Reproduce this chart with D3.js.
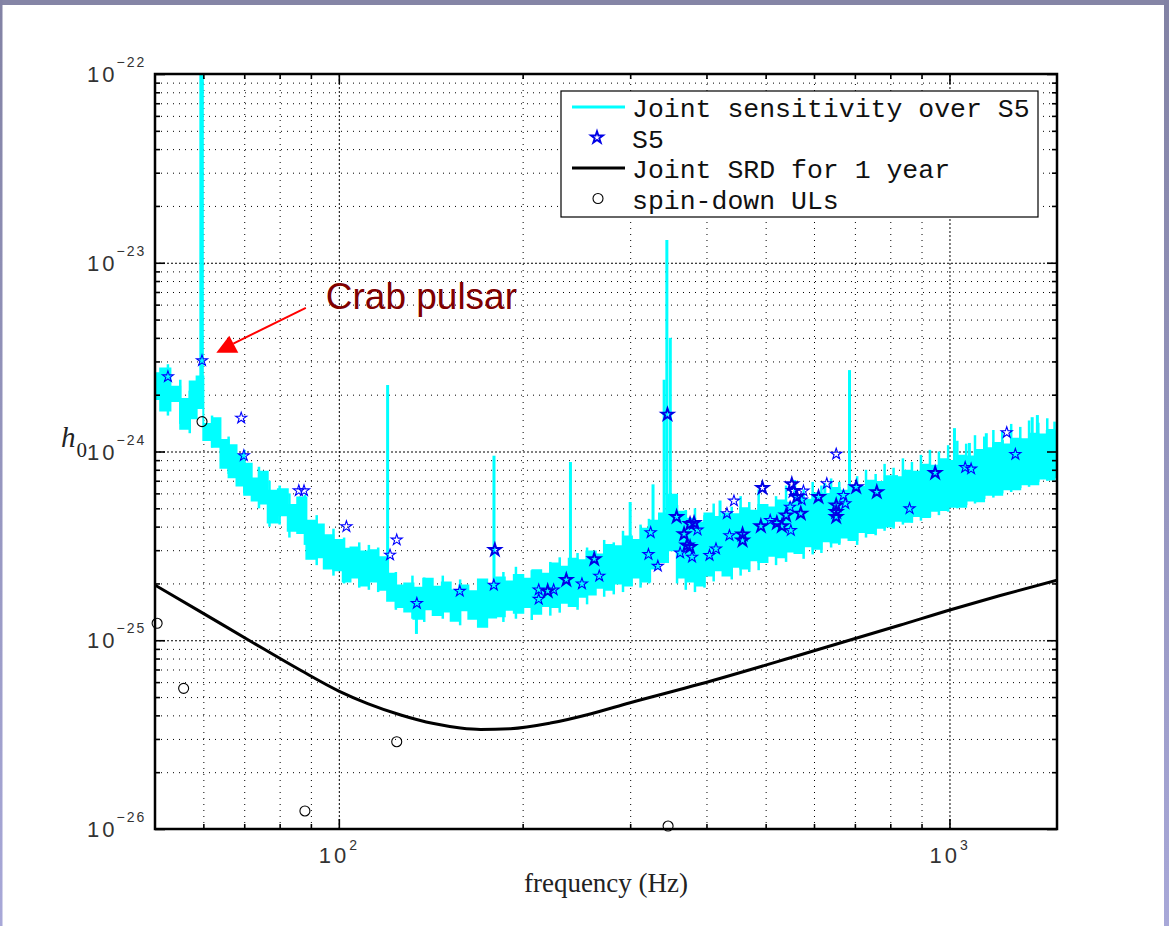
<!DOCTYPE html>
<html>
<head>
<meta charset="utf-8">
<script src="https://cdnjs.cloudflare.com/ajax/libs/d3/7.8.5/d3.min.js"></script>
<style>
  body { margin: 0; background: #fff; }
  svg { display: block; }
</style>
</head>
<body>
<svg width="1169" height="926"></svg>
<script>
var svg = d3.select('svg');

// all h0 values below are in units of 1e-25
var unit = 1e-25;

// joint sensitivity over S5: frequency grid with upper and lower edge of the noisy band
var sensFreq = [50, 52, 54, 56, 58, 59, 61, 63, 65, 67,
    69, 71, 73, 75, 78, 81, 84, 87, 90, 93,
    96, 100, 103, 106, 110, 114, 118, 122, 126, 130,
    135, 140, 145, 150, 155, 160, 166, 172, 178, 184,
    190, 197, 204, 211, 218, 226, 234, 242, 250, 259,
    268, 277, 287, 297, 307, 318, 329, 340, 352, 364,
    377, 390, 404, 418, 432, 447, 462, 478, 495, 512,
    530, 548, 567, 587, 607, 628, 650, 672, 695, 719,
    744, 770, 797, 825, 853, 883, 913, 945, 978, 1012,
    1047, 1083, 1120, 1159, 1199, 1241, 1284, 1328, 1374, 1422,
    1471, 1500];
var sensHigh = [26, 27.5, 22, 19, 23.5, 25, 14, 15, 11.5, 10.8,
    9.6, 8.6, 7.2, 7.8, 6.2, 6.3, 5.2, 5.7, 4.3, 4.1,
    3.6, 3.4, 3.05, 3.1, 2.95, 3.0, 2.75, 2.25, 1.95, 2.0,
    1.9, 2.12, 1.92, 2.02, 1.84, 1.95, 1.82, 2.1, 1.98, 2.15,
    2.05, 2.22, 2.12, 2.35, 2.25, 2.55, 2.45, 2.7, 2.65, 2.95,
    2.85, 3.2, 3.15, 3.55, 3.4, 3.9, 4.3, 4.7, 5.9, 4.8,
    4.4, 4.2, 4.7, 4.5, 4.7, 4.65, 5.0, 4.85, 5.2, 5.05,
    5.5, 5.35, 5.7, 5.55, 6.0, 5.95, 6.4, 6.2, 6.6, 6.5,
    7.0, 6.9, 7.4, 7.3, 7.9, 7.8, 8.5, 8.4, 9.1, 8.9,
    9.5, 9.4, 10.2, 10.4, 11.1, 10.9, 11.7, 11.6, 12.4, 12.3,
    13.0, 12.8];
var sensLow = [19, 16.5, 18.5, 13.2, 15, 17, 11.5, 10.6, 8.2, 7.3,
    6.6, 5.9, 5.5, 5.3, 4.2, 4.6, 3.8, 3.7, 2.7, 2.75,
    2.4, 2.35, 2.05, 2.15, 1.95, 2.05, 1.85, 1.62, 1.5, 1.42,
    1.3, 1.46, 1.36, 1.42, 1.27, 1.44, 1.3, 1.18, 1.32, 1.34,
    1.45, 1.4, 1.5, 1.38, 1.52, 1.5, 1.58, 1.52, 1.7, 1.75,
    1.9, 1.85, 2.0, 1.95, 2.15, 2.05, 2.4, 2.6, 3.0, 2.15,
    2.05, 1.95, 2.2, 2.35, 2.2, 2.45, 2.4, 2.65, 2.6, 2.8,
    2.75, 2.95, 2.9, 3.15, 3.05, 3.35, 3.3, 3.5, 3.4, 3.75,
    3.7, 3.95, 4.0, 4.3, 4.25, 4.55, 4.5, 4.85, 4.9, 5.1,
    5.1, 5.5, 5.45, 5.9, 5.9, 6.3, 6.3, 6.7, 6.7, 7.2,
    7.1, 7.3];

// short excursions of the noisy curve beyond the band edges
var fringeFreq = [52.5, 55, 57, 62, 66, 70, 74, 77, 80, 83,
    88, 92, 98, 102, 108, 112, 116, 124, 132, 138,
    148, 158, 170, 186, 195, 207, 222, 230, 246, 255,
    272, 282, 292, 312, 322, 358, 370, 383, 397, 411,
    440, 455, 470, 487, 520, 540, 577, 597, 617, 640,
    660, 706, 730, 757, 783, 810, 839, 868, 898, 929,
    961, 995, 1030, 1065, 1101, 1140, 1180, 1220, 1262, 1306,
    1350, 1398, 1446, 1486];
var fringeLow = [15.5, 14, 12.5, 10.5, 7.6, 6.0, 5.0, 4.0, 4.1, 3.5,
    3.2, 2.5, 2.2, 2.0, 1.9, 1.85, 1.8, 1.45, 1.3, 1.25,
    1.3, 1.2, 1.2, 1.25, 1.3, 1.28, 1.35, 1.4, 1.45, 1.55,
    1.7, 1.75, 1.8, 1.9, 2.0, 2.0, 1.85, 1.8, 1.9, 2.05,
    2.1, 2.2, 2.3, 2.35, 2.5, 2.6, 2.7, 2.85, 2.9, 3.1,
    3.2, 3.2, 3.5, 3.6, 3.8, 3.9, 4.1, 4.2, 4.3, 4.5,
    4.6, 4.8, 5.0, 5.2, 5.3, 5.6, 5.7, 6.0, 6.1, 6.4,
    6.5, 6.9, 7.0, 7.4];
var fringeHigh = [29, 24, 21, 15.5, 12, 10.2, 8.3, 7.0, 6.6, 6.0,
    5.9, 4.6, 3.9, 3.5, 3.3, 3.2, 3.1, 2.3, 2.2, 2.15,
    2.2, 2.1, 2.0, 2.3, 2.45, 2.35, 2.6, 2.75, 2.9, 3.1,
    3.4, 3.3, 3.8, 4.1, 4.4, 5.2, 4.9, 5.0, 4.6, 5.3,
    5.1, 5.8, 5.4, 6.3, 5.8, 6.6, 6.3, 6.9, 6.6, 7.2,
    6.9, 7.4, 8.0, 7.6, 8.6, 8.2, 9.2, 8.8, 9.6, 10.2,
    10.0, 10.8, 11.4, 11.0, 12.2, 12.0, 13.0, 12.8, 14.0, 13.5,
    14.6, 14.2, 15.0, 14.4];

// narrow lines in the sensitivity curve
var lineFreq = [59.6, 120.2, 134, 179.5, 239.5, 300, 327, 341, 344.5, 349, 421,
    558, 625, 686, 819, 1019, 1078, 1149, 1221, 1366, 1393, 1446];
var lineLow = [20, 2.2, 1.08, 1.6, 1.8, 2.4, 2.6, 3.0, 3.0, 3.0, 3.0,
    3.8, 4.2, 4.5, 5.0, 6.5, 6.5, 7, 7.5, 8, 8, 8.5];
var lineTop = [3000, 22.5, 1.9, 9.5, 8.8, 5.4, 6.7, 24, 132, 40, 5.5,
    7.06, 6.8, 27, 7.5, 13.3, 11.1, 12.5, 11.5, 15.2, 15.6, 13];

// S5 upper limits
var s5Freq = [52.5, 59.7, 69.2, 69.9, 86.0, 87.7, 102.9, 121.3, 124.4, 134.2,
    157.8, 179.4, 212.5, 212.5, 224.8, 250.1, 267.0, 321.4, 324.1, 333.0,
    362.2, 378.8, 386.7, 404.6, 414.6, 432.1, 443.7, 436.2, 508.6, 549.8,
    576.6, 573.0, 548.3, 629.6, 652.4, 670.5, 675.1, 860.3, 1061, 1085,
    1241, 1282];
var s5H = [24.9, 30.3, 15.05, 9.5, 6.2, 6.2, 4.0, 2.83, 3.40, 1.57,
    1.82, 1.96, 1.85, 1.65, 1.85, 1.99, 2.19, 2.85, 3.72, 2.47,
    2.90, 2.76, 3.84, 2.82, 3.05, 4.69, 5.47, 3.59, 4.32, 3.82,
    6.18, 5.54, 5.08, 6.76, 9.70, 5.86, 5.30, 4.98, 8.23, 8.09,
    12.6, 9.67];
// S5 points that sit on top of each other (drawn heavier in the original)
var s5DupFreq = [180.1, 219.8, 235.8, 262.0, 345.3, 357.4, 367.6, 376.0, 381.7, 371.7,
    376.0, 458.3, 458.3, 494.0, 491.1, 521.6, 531.5, 540.2, 551.9, 555.4,
    562.3, 570.8, 610.3, 652.4, 652.4, 652.4, 703.5, 760.3, 947.5];
var s5DupH = [3.01, 1.82, 2.09, 2.69, 15.7, 4.50, 3.65, 4.13, 4.18, 3.18,
    3.12, 3.64, 3.38, 6.41, 4.02, 4.18, 4.02, 4.59, 6.71, 6.18,
    5.74, 4.69, 5.74, 5.19, 4.78, 4.50, 6.48, 6.10, 7.70];

// joint SRD for 1 year
var srdFreq = [50, 59.5, 71.8, 86.7, 100, 111.5, 126.3, 143, 158.2, 170.6,
    191, 222, 258.1, 298.9, 390.5, 568.8, 828.7, 1011, 1207, 1500];
var srdH = [1.96, 1.41, 0.985, 0.691, 0.538, 0.462, 0.402, 0.362, 0.343, 0.337,
    0.340, 0.364, 0.407, 0.465, 0.586, 0.835, 1.20, 1.46, 1.72, 2.08];

// spin-down upper limits
var sdFreq = [50.4, 55.7, 59.7, 88.0, 124.4, 346.1];
var sdH = [1.23, 0.556, 14.4, 0.1246, 0.290, 0.1037];

var legendLabels = ['Joint sensitivity over S5', 'S5', 'Joint SRD for 1 year', 'spin-down ULs'];
var xMajor = [100, 1000];
var xMinor = [60, 70, 80, 90, 200, 300, 400, 500, 600, 700, 800, 900];
var yExp = [-26, -25, -24, -23, -22];

// plot box (note: "top" is reserved on window, so use other names)
var pL = 155, pR = 1057, pT = 74, pB = 829;

var x = d3.scaleLog().domain([50, 1500]).range([pL, pR]);
var y = d3.scaleLog().domain([1e-26, 1e-22]).range([pB, pT]);

var yMajor = yExp.map(function(e) { return Math.pow(10, e); });
var yMinor = [];
yExp.slice(0, 4).forEach(function(e) {
    for (var k = 2; k <= 9; k++) yMinor.push(k * Math.pow(10, e));
});

// slide frame
var defs = svg.append('defs');
var grad = defs.append('linearGradient').attr('id', 'side')
    .attr('x1', 0).attr('y1', 0).attr('x2', 0).attr('y2', 1);
grad.append('stop').attr('offset', '0%').attr('stop-color', '#8282a4');
grad.append('stop').attr('offset', '100%').attr('stop-color', '#a8a8d8');

svg.append('rect').attr('x', 0).attr('y', 0).attr('width', 1169).attr('height', 5)
    .style('fill', '#8585a6');
svg.append('rect').attr('x', 0).attr('y', 0).attr('width', 2.5).attr('height', 926)
    .style('fill', 'url(#side)');
svg.append('rect').attr('x', 1164).attr('y', 0).attr('width', 5).attr('height', 926)
    .style('fill', 'url(#side)');

defs.append('clipPath').attr('id', 'plotclip')
    .append('rect')
    .attr('x', pL).attr('y', pT)
    .attr('width', pR - pL).attr('height', pB - pT);

// grid
function styleGrid(g, dash) {
    g.select('.domain').remove();
    g.selectAll('line')
        .style('stroke', '#000')
        .style('stroke-width', 1)
        .style('stroke-dasharray', dash);
}

svg.append('g')
    .attr('transform', 'translate(0,' + pB + ')')
    .call(d3.axisBottom(x).tickValues(xMinor).tickSize(-(pB - pT)).tickFormat(''))
    .call(styleGrid, '1,5');
svg.append('g')
    .attr('transform', 'translate(0,' + pB + ')')
    .call(d3.axisBottom(x).tickValues(xMajor).tickSize(-(pB - pT)).tickFormat(''))
    .call(styleGrid, '2,2');
svg.append('g')
    .attr('transform', 'translate(' + pL + ',0)')
    .call(d3.axisLeft(y).tickValues(yMinor).tickSize(-(pR - pL)).tickFormat(''))
    .call(styleGrid, '1,5');
svg.append('g')
    .attr('transform', 'translate(' + pL + ',0)')
    .call(d3.axisLeft(y).tickValues(yMajor.slice(1, 4)).tickSize(-(pR - pL)).tickFormat(''))
    .call(styleGrid, '2,2');

var plot = svg.append('g').attr('clip-path', 'url(#plotclip)');

// sensitivity band
var sens = sensFreq.map(function(f, i) {
    return {f: f, hi: sensHigh[i], lo: sensLow[i]};
});
var band = d3.area()
    .x(function(d) { return x(d.f); })
    .y0(function(d) { return y(d.lo * unit); })
    .y1(function(d) { return y(d.hi * unit); })
    .curve(d3.curveStep);

plot.append('path')
    .datum(sens)
    .attr('d', band)
    .style('fill', '#00ffff')
    .style('stroke', '#00ffff')
    .style('stroke-width', 2);

plot.selectAll('.fringe')
    .data(fringeFreq)
    .enter().append('line')
    .attr('class', 'fringe')
    .attr('x1', function(d) { return x(d); })
    .attr('x2', function(d) { return x(d); })
    .attr('y1', function(d, i) { return y(fringeLow[i] * unit); })
    .attr('y2', function(d, i) { return y(fringeHigh[i] * unit); })
    .style('stroke', '#00ffff')
    .style('stroke-width', 2.5);

plot.selectAll('.specline')
    .data(lineFreq)
    .enter().append('line')
    .attr('class', 'specline')
    .attr('x1', function(d) { return x(d); })
    .attr('x2', function(d) { return x(d); })
    .attr('y1', function(d, i) { return y(lineLow[i] * unit); })
    .attr('y2', function(d, i) { return y(lineTop[i] * unit); })
    .style('stroke', '#00ffff')
    .style('stroke-width', function(d, i) { return i === 0 ? 4.5 : 3; });

// SRD curve
var srdLine = d3.line()
    .x(function(d, i) { return x(srdFreq[i]); })
    .y(function(d, i) { return y(srdH[i] * unit); })
    .curve(d3.curveMonotoneX);

plot.append('path')
    .datum(srdFreq)
    .attr('d', srdLine)
    .style('fill', 'none')
    .style('stroke', '#000')
    .style('stroke-width', 3);

// S5 stars
var star = d3.symbol().type(d3.symbolStar).size(38);
var starBig = d3.symbol().type(d3.symbolStar).size(44);

svg.selectAll('.s5')
    .data(s5Freq)
    .enter().append('path')
    .attr('class', 's5')
    .attr('d', star)
    .attr('transform', function(d, i) {
        return 'translate(' + x(d) + ',' + y(s5H[i] * unit) + ')';
    })
    .style('fill', 'none')
    .style('stroke', '#0000ff')
    .style('stroke-width', 1.1);

svg.selectAll('.s5dup')
    .data(s5DupFreq)
    .enter().append('path')
    .attr('class', 's5dup')
    .attr('d', starBig)
    .attr('transform', function(d, i) {
        return 'translate(' + x(d) + ',' + y(s5DupH[i] * unit) + ')';
    })
    .style('fill', 'none')
    .style('stroke', '#0000e6')
    .style('stroke-width', 1.9);

// spin-down circles
svg.selectAll('.sd')
    .data(sdFreq)
    .enter().append('circle')
    .attr('class', 'sd')
    .attr('cx', function(d) { return x(d); })
    .attr('cy', function(d, i) { return y(sdH[i] * unit); })
    .attr('r', 5)
    .style('fill', 'none')
    .style('stroke', '#000')
    .style('stroke-width', 1.1);

// ticks (inward, on all four sides)
function styleTicks(g) {
    g.select('.domain').remove();
    g.selectAll('line').style('stroke', '#000').style('stroke-width', 1.6);
}
[[d3.axisLeft, pL], [d3.axisRight, pR]].forEach(function(a) {
    svg.append('g').attr('transform', 'translate(' + a[1] + ',0)')
        .call(a[0](y).tickValues(yMajor).tickSize(-10).tickFormat('')).call(styleTicks);
    svg.append('g').attr('transform', 'translate(' + a[1] + ',0)')
        .call(a[0](y).tickValues(yMinor).tickSize(-5).tickFormat('')).call(styleTicks);
});
[[d3.axisBottom, pB], [d3.axisTop, pT]].forEach(function(a) {
    svg.append('g').attr('transform', 'translate(0,' + a[1] + ')')
        .call(a[0](x).tickValues(xMajor).tickSize(-10).tickFormat('')).call(styleTicks);
    svg.append('g').attr('transform', 'translate(0,' + a[1] + ')')
        .call(a[0](x).tickValues(xMinor).tickSize(-5).tickFormat('')).call(styleTicks);
});

svg.append('rect')
    .attr('x', pL).attr('y', pT)
    .attr('width', pR - pL).attr('height', pB - pT)
    .style('fill', 'none')
    .style('stroke', '#000')
    .style('stroke-width', 2.5);

// tick labels
var yLab = svg.selectAll('.ylab')
    .data(yExp)
    .enter().append('text')
    .attr('class', 'ylab')
    .attr('x', 87)
    .attr('y', function(d) { return y(Math.pow(10, d)) + 8; })
    .style('font-family', 'Liberation Sans, Arial, sans-serif')
    .style('fill', '#333');
yLab.append('tspan').text('10').style('font-size', '22px').style('letter-spacing', '3px');
yLab.append('tspan').text(function(d) { return '\u2212' + (-d); })
    .attr('dy', -15).attr('dx', -1)
    .style('font-size', '14px').style('letter-spacing', '2px');

var xLab = svg.selectAll('.xlab')
    .data(xMajor)
    .enter().append('text')
    .attr('class', 'xlab')
    .attr('x', function(d) { return x(d) - 20; })
    .attr('y', 863)
    .style('font-family', 'Liberation Sans, Arial, sans-serif')
    .style('fill', '#333');
xLab.append('tspan').text('10').style('font-size', '22px').style('letter-spacing', '3px');
xLab.append('tspan').text(function(d) { return Math.round(Math.log10(d)); })
    .attr('dy', -13).attr('dx', 0)
    .style('font-size', '14px');

// axis titles
svg.append('text')
    .attr('x', (pL + pR) / 2)
    .attr('y', 892)
    .attr('text-anchor', 'middle')
    .style('font-family', 'Liberation Serif, Times New Roman, serif')
    .style('font-size', '27px')
    .style('fill', '#222')
    .text('frequency (Hz)');

var hLab = svg.append('text')
    .attr('x', 61)
    .attr('y', 447)
    .style('font-family', 'Liberation Serif, Times New Roman, serif')
    .style('fill', '#222');
hLab.append('tspan').text('h').style('font-size', '29px').style('font-style', 'italic');
hLab.append('tspan').text('0').attr('dy', 10).attr('dx', 1).style('font-size', '21px');

// legend
var lg = svg.append('g');
lg.append('rect')
    .attr('x', 561).attr('y', 91)
    .attr('width', 477).attr('height', 126)
    .style('fill', '#fff')
    .style('stroke', '#000')
    .style('stroke-width', 1.2);

var rowY = function(i) { return 107 + i * 30.5; };

lg.selectAll('.lgtext')
    .data(legendLabels)
    .enter().append('text')
    .attr('class', 'lgtext')
    .attr('x', 632)
    .attr('y', function(d, i) { return rowY(i) + 10; })
    .style('font-family', 'Liberation Mono, Courier New, monospace')
    .style('font-size', '26.5px')
    .style('fill', '#111')
    .text(function(d) { return d; });

lg.append('line')
    .attr('x1', 572).attr('x2', 625)
    .attr('y1', rowY(0)).attr('y2', rowY(0))
    .style('stroke', '#00ffff').style('stroke-width', 3);
lg.append('path')
    .attr('d', starBig)
    .attr('transform', 'translate(597,' + rowY(1) + ')')
    .style('fill', 'none').style('stroke', '#0000e6').style('stroke-width', 1.9);
lg.append('line')
    .attr('x1', 572).attr('x2', 625)
    .attr('y1', rowY(2)).attr('y2', rowY(2))
    .style('stroke', '#000').style('stroke-width', 3);
lg.append('circle')
    .attr('cx', 598).attr('cy', rowY(3)).attr('r', 5)
    .style('fill', 'none').style('stroke', '#000').style('stroke-width', 1.1);

// Crab pulsar annotation
var tipX = x(63.0), tipY = y(33.4e-25);
svg.append('line')
    .attr('x1', x(88.3)).attr('y1', y(57.6e-25))
    .attr('x2', tipX + 17).attr('y2', tipY - 9)
    .style('stroke', '#ff0000')
    .style('stroke-width', 2);
svg.append('path')
    .attr('d', 'M' + tipX + ',' + tipY + 'L' + (tipX + 13) + ',' + (tipY - 17) +
        'L' + (tipX + 22) + ',' + tipY + 'Z')
    .style('fill', '#ff0000');
svg.append('text')
    .attr('x', x(95.2))
    .attr('y', y(56.9e-25))
    .style('font-family', 'Liberation Sans, Arial, sans-serif')
    .style('font-size', '37px')
    .style('fill', '#800000')
    .text('Crab pulsar');
</script>
</body>
</html>
